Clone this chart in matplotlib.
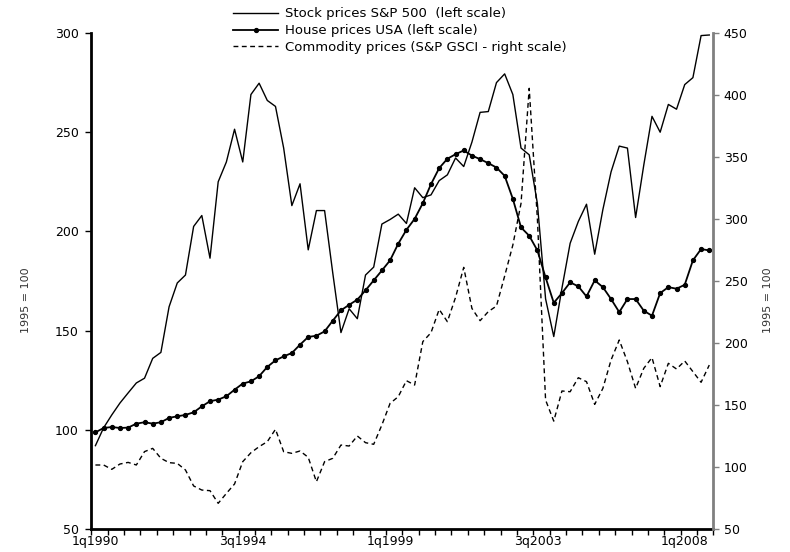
import matplotlib
matplotlib.use('Agg')
import matplotlib.pyplot as plt

# ========== DANE ==========

labels = ['1q1990', '3q1994', '1q1999', '3q2003', '1q2008']
label_idx = [0, 18, 36, 54, 72]

stock = [92, 101, 107.5, 113.5, 118.6, 123.6, 126, 136, 139, 162,
         174, 178, 202.5, 208, 186.5, 225, 235, 251.5, 235, 269,
         274.7, 266, 263, 242, 213, 224, 190.7, 210.5, 210.5, 179,
         149, 161, 156, 178, 182, 203.7, 206, 208.7, 204, 222,
         217, 218.4, 225.6, 228.5, 237, 232.7, 245, 260, 260.4, 275,
         279.4, 269, 242, 238.6, 214, 166, 147, 171.4, 194, 205,
         213.7, 188.5, 211, 230, 243, 242, 207, 233.5, 258, 250,
         264, 261.6, 274, 277.5, 298.7, 299]

house = [98.7, 100.9, 101.4, 100.9, 101.1, 103.1, 103.8, 103.1, 103.8, 106.0,
         106.8, 107.5, 108.8, 111.8, 114.4, 115.2, 116.9, 120.2, 123.3, 124.4,
         127.0, 131.7, 135, 137, 138.7, 142.9, 146.8, 147.4, 149.6, 155,
         160.2, 163, 165.6, 170.3, 175.3, 180.3, 185.4, 193.8, 200.8, 206.3,
         214.2, 223.8, 231.9, 236.6, 238.9, 240.8, 238.2, 236.4, 234.4, 232.2,
         228, 216.4, 202, 197.8, 190.4, 176.8, 164, 168.9, 174.3, 172.3,
         167.2, 175.3, 171.9, 165.9, 159.3, 165.9, 165.9, 160, 157.5, 168.9,
         171.9, 171.1, 173.1, 185.4, 191.1, 190.4]

commodity = [101.6, 101.6, 98.1, 102.4, 103.7, 101.6, 112.4, 115, 107, 103.5,
             102.9, 97.6, 84.7, 81.4, 80.9, 70.7, 78.7, 86.3, 104.3, 111.5,
             116.4, 120.4, 130.4, 112.3, 111, 112.9, 107.8, 88.1, 104.3, 107,
             117.7, 116.9, 125, 119.6, 118.3, 133.9, 151.3, 156.7, 169.6, 166.1,
             201.1, 208.3, 227.1, 217.2, 236.8, 261, 227.9, 218, 225.3, 229.8,
             254, 279, 312.6, 405.4, 300, 154, 137, 161.3, 160.7, 172,
             168.8, 150.5, 163.4, 186.3, 202.4, 184.9, 163.4, 179.6, 188.2, 164.8,
             183.6, 179, 185.5, 176.9, 168.3, 182.2]

# ========== WYKRES ==========

plt.rcParams['font.family'] = 'DejaVu Sans'
plt.rcParams['font.size'] = 8.5

fig = plt.figure(figsize=(7.9, 5.52), dpi=100)
ax = fig.add_axes([0.1156, 0.0417, 0.7874, 0.8985])
ax2 = ax.twinx()

x = [i + 0.5 for i in range(len(stock))]

l1, = ax.plot(x, stock, color='black', lw=1.0)
l2, = ax.plot(x, house, color='black', lw=1.3, marker='o', markersize=2.8)
l3, = ax2.plot(x, commodity, color='black', lw=1.0, linestyle=(0, (3.5, 2.5)))

ax.set_xlim(0, len(stock))
ax.set_ylim(50, 300)
ax.set_yticks(range(50, 301, 50))
ax2.set_ylim(50, 450)
ax2.set_yticks(range(50, 451, 50))

# znaczniki co 2 kwartały, etykiety w środku kategorii
ax.set_xticks(range(0, len(stock) + 1, 2))
ax.set_xticklabels([])
ax.set_xticks([i + 0.5 for i in label_idx], minor=True)
ax.set_xticklabels(labels, minor=True)
ax.tick_params(axis='x', which='major', length=4, width=1, direction='out')
ax.tick_params(axis='x', which='minor', length=0, pad=4, labelsize=9)
ax.tick_params(axis='y', length=4, width=1, direction='out', labelsize=9, pad=5)
ax2.tick_params(axis='y', length=4, width=1, direction='out', labelsize=9, color='#808080')

for s in ['top', 'right']:
    ax.spines[s].set_visible(False)
ax.spines['left'].set_linewidth(2)
ax.spines['bottom'].set_linewidth(2)
ax2.spines['top'].set_visible(False)
ax2.spines['left'].set_visible(False)
ax2.spines['bottom'].set_visible(False)
ax2.spines['right'].set_linewidth(2)
ax2.spines['right'].set_color('#808080')

fig.text(0.033, 1 - 300 / 552, '1995 = 100', rotation=90, ha='center', va='center', fontsize=8, color='#333333')
fig.text(0.972, 1 - 300 / 552, '1995 = 100', rotation=90, ha='center', va='center', fontsize=8, color='#333333')

fig.legend([l1, l2, l3],
           ['Stock prices S&P 500  (left scale)', 'House prices USA (left scale)',
            'Commodity prices (S&P GSCI - right scale)'],
           loc='upper left', bbox_to_anchor=(0.28, 1.008), frameon=False,
           handlelength=3.4, handletextpad=0.5, labelspacing=0.28, fontsize=9.5)

plt.savefig('out.png', dpi=100)
plt.close()
